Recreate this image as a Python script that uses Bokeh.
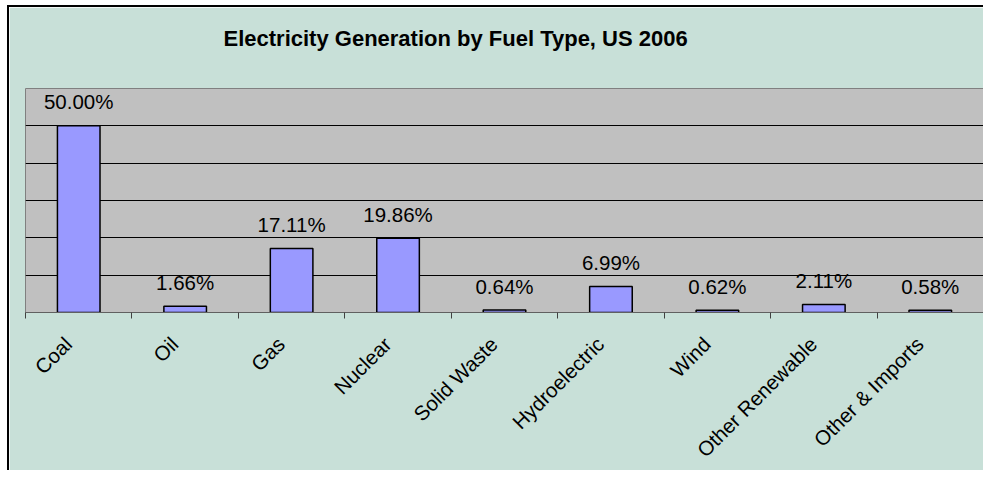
from bokeh.plotting import figure
from bokeh.models import ColumnDataSource, Range1d, FixedTicker, Title
from bokeh.core.properties import value
from bokeh.embed import file_html
from bokeh.resources import INLINE
import math

# ---- data ----
categories = ["Coal", "Oil", "Gas", "Nuclear", "Solid Waste", "Hydroelectric",
              "Wind", "Other Renewable", "Other & Imports"]
shares = [50.00, 1.66, 17.11, 19.86, 0.64, 6.99, 0.62, 2.11, 0.58]
grid_values = [10, 20, 30, 40, 50]
title_text = "Electricity Generation by Fuel Type, US  2006"

idx = list(range(len(categories)))
labels = [f"{v:.2f}%" for v in shares]
src = ColumnDataSource(dict(x=idx, top=shares, label=labels))

FONT = "Liberation Sans"
BG = "#C8E0D8"

p = figure(width=976, height=465, output_backend="svg", toolbar_location=None,
           x_range=Range1d(-0.5, len(categories) - 0.5), y_range=Range1d(0, 60),
           min_border_left=16, min_border_right=2, min_border_top=81, min_border_bottom=160,
           title_location=None)
p.styles = {"border-left": "2px solid black", "border-top": "2px solid black",
            "margin-left": "7px", "margin-top": "5px"}

p.background_fill_color = "#C0C0C0"
p.border_fill_color = BG
p.outline_line_color = "#808080"
p.outline_line_width = 1

p.vbar(x="x", top="top", width=0.4, bottom=0, source=src,
       fill_color="#9999FF", line_color="#000000", line_width=1.5)

p.text(x="x", y="top", text="label", source=src, text_align="center",
       text_baseline="alphabetic", y_offset=-24,
       text_font=value(FONT), text_font_size="20.5px", text_color="#000000")

# grid
p.xgrid.visible = False
p.ygrid.ticker = FixedTicker(ticks=grid_values)
p.ygrid.grid_line_color = "#000000"
p.ygrid.grid_line_width = 1

p.yaxis.visible = False

# labels anchored slightly left of the category centre (hidden major ticks)
label_pos = [i - 0.1 for i in idx]
ax = p.xaxis[0]
ax.ticker = FixedTicker(ticks=label_pos, minor_ticks=[i - 0.5 for i in range(len(categories) + 1)])
ax.major_label_overrides = {pos: c for pos, c in zip(label_pos, categories)}
ax.major_tick_line_color = None
ax.major_tick_out = 0
ax.major_tick_in = 0
ax.minor_tick_line_color = "#404040"
ax.minor_tick_out = 6
ax.minor_tick_in = 0
ax.axis_line_color = "#606060"
ax.axis_line_width = 1
ax.major_label_orientation = math.pi / 4
ax.major_label_standoff = 22
ax.major_label_text_font = FONT
ax.major_label_text_font_size = "20.5px"
ax.major_label_text_color = "#000000"

# blank spacer panel between the frame and the title (first added = closest to frame)
p.add_layout(Title(text=" ", standoff=12, text_font=FONT, text_font_size="17px"), "above")

title = Title(text=title_text, align="left", offset=198, standoff=10,
              text_font=FONT, text_font_style="bold", text_font_size="22px",
              text_color="#000000")
p.add_layout(title, "above")

open("out.html", "w").write(file_html(p, INLINE))
